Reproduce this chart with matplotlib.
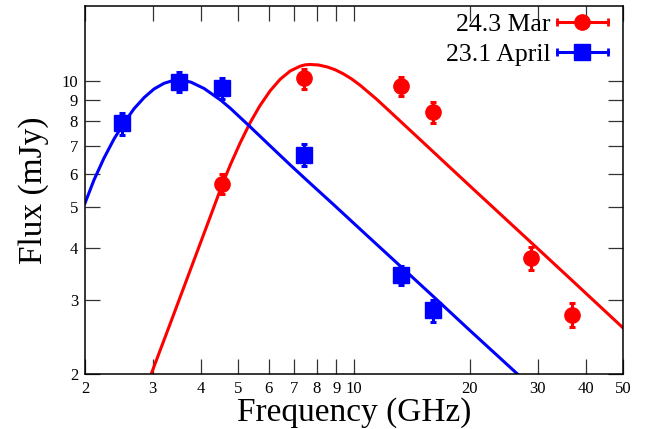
import matplotlib
matplotlib.use("Agg")
import matplotlib.pyplot as plt
from matplotlib.lines import Line2D
from matplotlib.legend_handler import HandlerLine2D, HandlerTuple
from matplotlib.ticker import NullLocator

plt.rcParams['font.family'] = ['Liberation Serif', 'DejaVu Serif']

# measured fluxes (mJy) vs frequency (GHz)
mar_freq = [4.55, 7.4, 13.25, 16.0, 28.9, 36.9]
mar_flux = [5.67, 10.13, 9.71, 8.41, 3.78, 2.77]
mar_err = [0.31, 0.55, 0.52, 0.48, 0.23, 0.18]

apr_freq = [2.5, 3.5, 4.55, 7.4, 13.25, 16.0]
apr_flux = [7.92, 9.95, 9.6, 6.65, 3.45, 2.84]
apr_err = [0.48, 0.56, 0.56, 0.40, 0.18, 0.17]

# model curves
mar_curve_x = [2.97, 3.33, 3.75, 4.23, 4.55, 4.77, 5.06, 5.37, 5.70, 6.06, 6.43,
               6.83, 7.25, 7.47, 7.69, 8.08, 8.50, 8.93, 9.39, 9.87, 10.38,
               11.47, 12.67, 14.01, 15.48, 17.10, 20.46, 25.0, 30.5, 37.2, 50.0]
mar_curve_y = [2.00, 2.64, 3.53, 4.74, 5.67, 6.30, 7.11, 7.94, 8.73, 9.47, 10.08,
               10.55, 10.83, 10.91, 10.93, 10.90, 10.79, 10.62, 10.38, 10.09, 9.75,
               9.02, 8.29, 7.61, 6.99, 6.42, 5.51, 4.65, 3.93, 3.32, 2.58]

apr_curve_x = [2.0, 2.11, 2.24, 2.38, 2.53, 2.68, 2.85, 3.02, 3.21, 3.34, 3.48,
               3.62, 3.77, 4.08, 4.51, 4.77, 5.37, 6.06, 6.83, 7.69, 8.85, 10.81,
               13.19, 16.10, 19.67, 26.8]
apr_curve_y = [5.11, 5.80, 6.54, 7.27, 7.95, 8.57, 9.12, 9.55, 9.86, 9.97, 10.02,
               10.00, 9.92, 9.58, 8.98, 8.60, 7.77, 6.99, 6.30, 5.70, 5.07, 4.28,
               3.62, 3.06, 2.58, 1.99]

x_ticks = [2, 3, 4, 5, 6, 7, 8, 9, 10, 20, 30, 40, 50]
y_ticks = [2, 3, 4, 5, 6, 7, 8, 9, 10]

red = '#ff0000'
blue = '#0000ff'

fig = plt.figure(figsize=(6.57, 4.29), dpi=100)
ax = fig.add_axes([85 / 657, 1 - 374.3 / 429, 538 / 657, 368.3 / 429])

ax.plot(mar_curve_x, mar_curve_y, color=red, lw=2.2, solid_joinstyle='round')
ax.plot(apr_curve_x, apr_curve_y, color=blue, lw=2.2, solid_joinstyle='round')

ax.errorbar(mar_freq, mar_flux, yerr=mar_err, fmt='o', color=red, ms=11,
            elinewidth=2.2, capsize=2.2, capthick=2.2, zorder=3)
ax.errorbar(apr_freq, apr_flux, yerr=apr_err, fmt='s', color=blue, ms=12,
            elinewidth=2.2, capsize=2.2, capthick=2.2, zorder=3)

ax.set_xscale('log')
ax.set_yscale('log')
ax.set_xlim(2, 50)
ax.set_ylim(2, 15.06)
ax.set_xticks(x_ticks, [str(t) for t in x_ticks])
ax.set_yticks(y_ticks, [str(t) for t in y_ticks])
ax.xaxis.set_minor_locator(NullLocator())
ax.yaxis.set_minor_locator(NullLocator())
ax.tick_params(which='major', direction='in', length=11, width=0.9,
               top=True, right=True, labelsize=12, pad=5, color='#333333')
for s in ax.spines.values():
    s.set_linewidth(1.1)

ax.set_xlabel('Frequency (GHz)', fontsize=24, labelpad=0)
ax.set_ylabel('Flux (mJy)', fontsize=24, labelpad=9)

# legend: line with end caps plus marker, text on the left
red_caps = Line2D([], [], color=red, lw=2.2, marker='|', ms=6, mew=2)
red_mark = Line2D([], [], color=red, lw=0, marker='o', ms=11)
blue_caps = Line2D([], [], color=blue, lw=2.2, marker='|', ms=6, mew=2)
blue_mark = Line2D([], [], color=blue, lw=0, marker='s', ms=12)
hm = {red_caps: HandlerLine2D(numpoints=2, marker_pad=0),
      blue_caps: HandlerLine2D(numpoints=2, marker_pad=0),
      tuple: HandlerTuple(ndivide=1)}
ax.legend([(red_caps, red_mark), (blue_caps, blue_mark)],
          ['24.3 Mar', '23.1 April'], handler_map=hm, loc='upper right',
          bbox_to_anchor=(1 - 2 / 538, 1 + 6 / 368), frameon=False,
          markerfirst=False, fontsize=18.5, handlelength=2.0,
          handletextpad=0.25, labelspacing=0.28, borderaxespad=0.3,
          borderpad=0.2)

fig.savefig('out.png', dpi=100)
